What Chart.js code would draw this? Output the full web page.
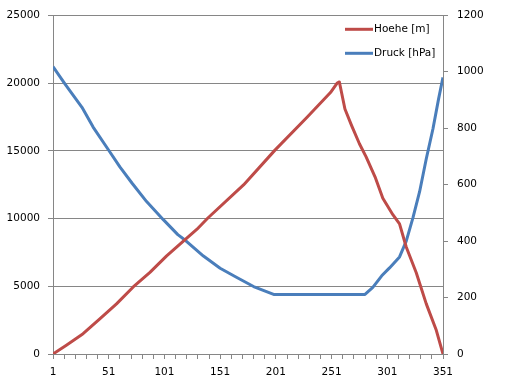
<!DOCTYPE html>
<html>
<head>
<meta charset="utf-8">
<script src="https://cdn.jsdelivr.net/npm/chart.js@4.4.1/dist/chart.umd.min.js"></script>
<style>
    html, body { margin: 0; padding: 0; background: #fff; }
    #wrap { width: 510px; height: 386px; }
</style>
</head>
<body>
<div id="wrap"><canvas id="chart" width="510" height="386"></canvas></div>
<script>
// Hoehe [m] - Messpunkte (Index, Wert)
const hoeheX = [1, 13, 28, 43, 58, 73, 88, 103, 118, 130, 140, 172, 200, 229, 250, 256, 258, 263, 269, 276, 282, 290, 297, 306, 312, 318, 327, 336, 345, 351];
const hoeheY = [0, 650, 1500, 2600, 3700, 4950, 6020, 7240, 8330, 9190, 10040, 12480, 15030, 17470, 19300, 20000, 20080, 18080, 16860, 15520, 14550, 13080, 11500, 10280, 9600, 7900, 6000, 3700, 1750, 0];

// Druck [hPa] - Messpunkte (Index, Wert)
const druckX = [1, 12, 27, 37, 51, 61, 72, 85, 100, 113, 120, 136, 151, 166, 181, 199, 281, 288, 296, 303, 312, 318, 324, 330, 336, 342, 347, 351];
const druckY = [1018, 955, 874, 804, 722, 663, 605, 540, 476, 423, 402, 347, 304, 271, 239, 211, 211, 236, 277, 305, 344, 400, 482, 575, 692, 798, 903, 980];

// Achsen
const xMin = 1, xMax = 351, xStep = 10, xLabelStep = 50;
const leftMax = 25000, leftStep = 5000;
const rightMax = 1200, rightStep = 200;

const axisColor = '#868686';
const fontFamily = "'DejaVu Sans', Verdana, sans-serif";
const fontSize = 10.5;

function toPoints(xs, ys) {
    return xs.map((x, i) => ({ x: x, y: ys[i] }));
}

// Legende innerhalb der Zeichenfläche (oben rechts)
const insideLegend = {
    id: 'insideLegend',
    afterDraw(chart) {
        const ctx = chart.ctx;
        const area = chart.chartArea;
        ctx.save();
        ctx.font = fontSize + 'px ' + fontFamily;
        ctx.textBaseline = 'middle';
        chart.data.datasets.forEach((ds, i) => {
            const y = area.top + 14 + i * 24;
            const x0 = area.right - 98;
            ctx.strokeStyle = ds.borderColor;
            ctx.lineWidth = 3;
            ctx.beginPath();
            ctx.moveTo(x0, y);
            ctx.lineTo(x0 + 28, y);
            ctx.stroke();
            ctx.fillStyle = '#000';
            ctx.fillText(ds.label, x0 + 29, y);
        });
        ctx.restore();
    }
};

const ctx = document.getElementById('chart');
new Chart(ctx, {
    type: 'line',
    data: {
        datasets: [{
            label: 'Hoehe [m]',
            data: toPoints(hoeheX, hoeheY),
            borderColor: '#BE4B48',
            borderWidth: 3,
            pointRadius: 0,
            tension: 0,
            borderJoinStyle: 'round',
            yAxisID: 'y'
        }, {
            label: 'Druck [hPa]',
            data: toPoints(druckX, druckY),
            borderColor: '#4A7EBB',
            borderWidth: 3,
            pointRadius: 0,
            tension: 0,
            borderJoinStyle: 'round',
            yAxisID: 'y1'
        }]
    },
    options: {
        responsive: false,
        animation: false,
        layout: { padding: { top: 12, left: 0, right: 0, bottom: 0 } },
        plugins: {
            legend: { display: false },
            tooltip: { enabled: false }
        },
        scales: {
            x: {
                type: 'linear',
                min: xMin,
                max: xMax,
                afterBuildTicks(scale) {
                    const t = [];
                    for (let v = xMin; v <= xMax; v += xStep) t.push({ value: v });
                    scale.ticks = t;
                },
                afterFit(scale) { scale.height = 32; },
                ticks: {
                    autoSkip: false,
                    maxRotation: 0,
                    padding: 7,
                    color: '#000',
                    font: { family: fontFamily, size: fontSize },
                    callback: v => ((v - xMin) % xLabelStep === 0 ? String(v) : '')
                },
                grid: {
                    drawOnChartArea: false,
                    drawTicks: true,
                    tickLength: 5,
                    color: axisColor
                },
                border: { display: true, color: axisColor }
            },
            y: {
                position: 'left',
                min: 0,
                max: leftMax,
                afterFit(scale) { scale.width = 53; },
                ticks: {
                    stepSize: leftStep,
                    padding: 8,
                    color: '#000',
                    font: { family: fontFamily, size: fontSize },
                    callback: v => String(v)
                },
                grid: {
                    color: axisColor,
                    tickLength: 5
                },
                border: { display: true, color: axisColor }
            },
            y1: {
                position: 'right',
                min: 0,
                max: rightMax,
                afterFit(scale) { scale.width = 67; },
                ticks: {
                    stepSize: rightStep,
                    padding: 9,
                    color: '#000',
                    font: { family: fontFamily, size: fontSize },
                    callback: v => String(v)
                },
                grid: {
                    drawOnChartArea: false,
                    tickLength: 5,
                    color: axisColor
                },
                border: { display: true, color: axisColor }
            }
        }
    },
    plugins: [insideLegend]
});
</script>
</body>
</html>
